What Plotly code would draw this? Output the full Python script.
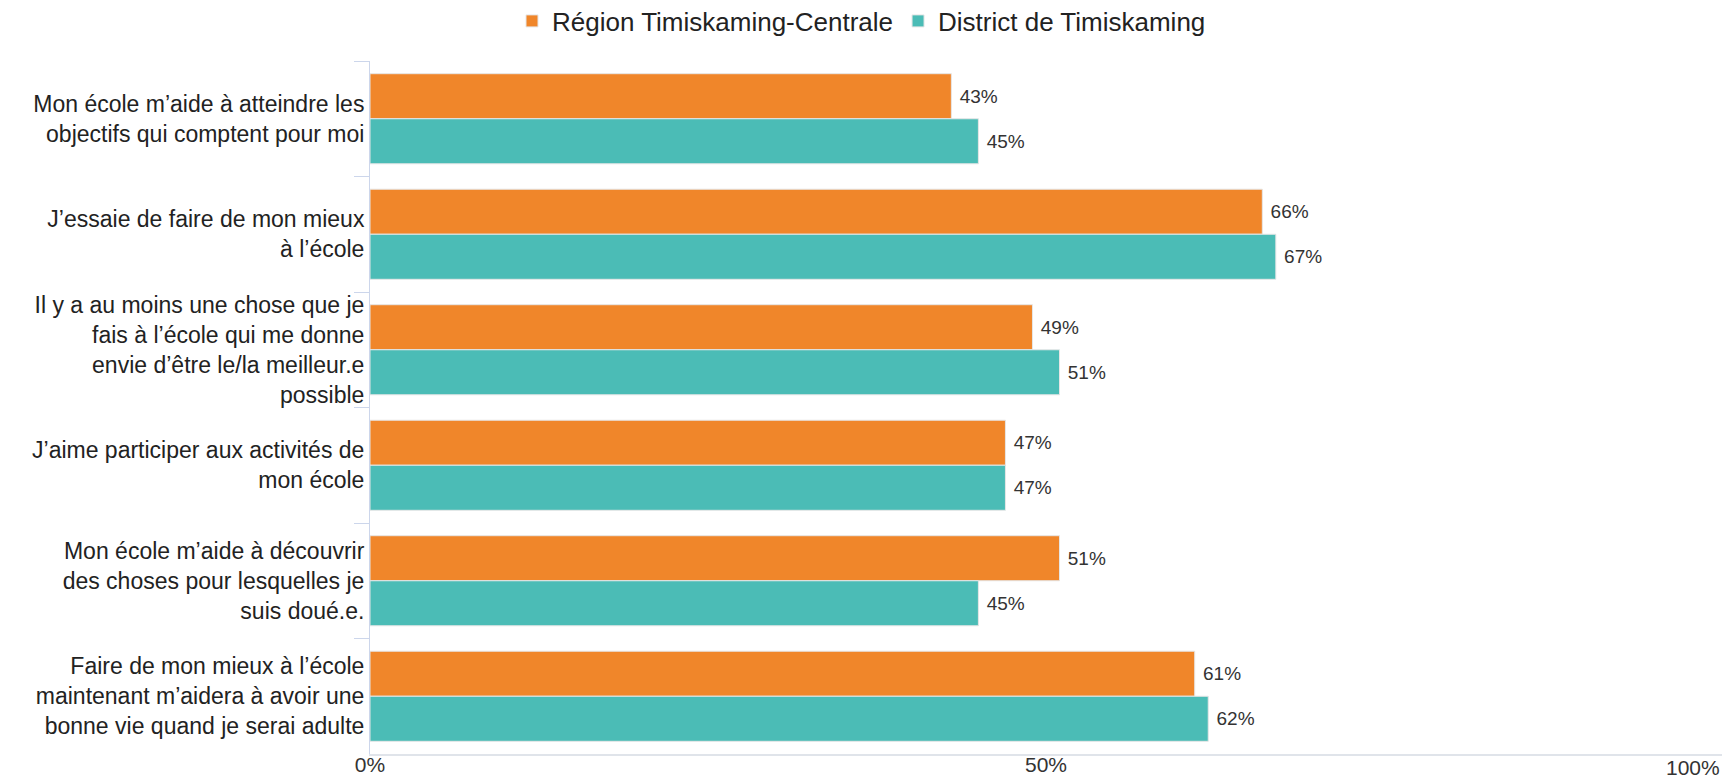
import plotly.graph_objects as go

categories = [
    "Mon école m’aide à atteindre les<br>objectifs qui comptent pour moi",
    "J’essaie de faire de mon mieux<br>à l’école",
    "Il y a au moins une chose que je<br>fais à l’école qui me donne<br>envie d’être le/la meilleur.e<br>possible",
    "J’aime participer aux activités de<br>mon école",
    "Mon école m’aide à découvrir<br>des choses pour lesquelles je<br>suis doué.e.",
    "Faire de mon mieux à l’école<br>maintenant m’aidera à avoir une<br>bonne vie quand je serai adulte",
]
series_names = ["Région Timiskaming-Centrale", "District de Timiskaming"]
region_values = [43, 66, 49, 47, 51, 61]
district_values = [45, 67, 51, 47, 45, 62]
x_tick_values = [0, 50, 100]
x_tick_labels = ["0%", "50%", "100%"]

colors = ["#F0862A", "#4BBCB6"]
FONT = "Liberation Sans, Arial, sans-serif"

fig = go.Figure()
for name, vals, col in zip(series_names, [region_values, district_values], colors):
    fig.add_trace(go.Bar(
        y=categories, x=vals, name=name, orientation="h",
        marker=dict(color=col, line=dict(color="#e6e6e6", width=1)),
        text=[f" {v}%" for v in vals], textposition="outside",
        textfont=dict(family=FONT, size=19, color="#333333"),
        cliponaxis=False,
    ))

fig.update_layout(
    width=1723, height=778,
    margin=dict(l=370, r=1, t=61, b=24),
    paper_bgcolor="white", plot_bgcolor="white",
    barmode="group", bargap=0.22, bargroupgap=0.0,
    font=dict(family=FONT, color="#333333"),
    legend=dict(
        orientation="h", xref="container", yref="container",
        x=0.5, xanchor="center", y=1 - 21 / 778, yanchor="middle",
        font=dict(size=26, color="#222222"), traceorder="normal",
        itemwidth=30,
    ),
    xaxis=dict(
        range=[0, 100], tickvals=x_tick_values,
        ticktext=[x_tick_labels[0], x_tick_labels[1], ""],
        showgrid=False, zeroline=False, automargin=False,
        showline=True, linecolor="#e0e4ea", linewidth=2,
        tickfont=dict(size=21, color="#333333"), ticks="",
        ticklabelstandoff=-9,
    ),
    yaxis=dict(
        autorange="reversed", showgrid=False, zeroline=False, automargin=False,
        showline=True, linecolor="#ccd6eb", linewidth=1,
        ticks="outside", tickson="boundaries", ticklen=15, tickcolor="#ccd6eb",
        tickfont=dict(size=23, color="#222222"),
    ),
    annotations=[dict(
        x=1, y=0, xref="paper", yref="paper", text=x_tick_labels[2],
        showarrow=False, xanchor="right", yanchor="top", yshift=0,
        font=dict(size=21, color="#333333", family=FONT),
    )],
)

fig.write_html("out.html", config={"displayModeBar": False},
               post_script="document.body.style.margin='0';")
